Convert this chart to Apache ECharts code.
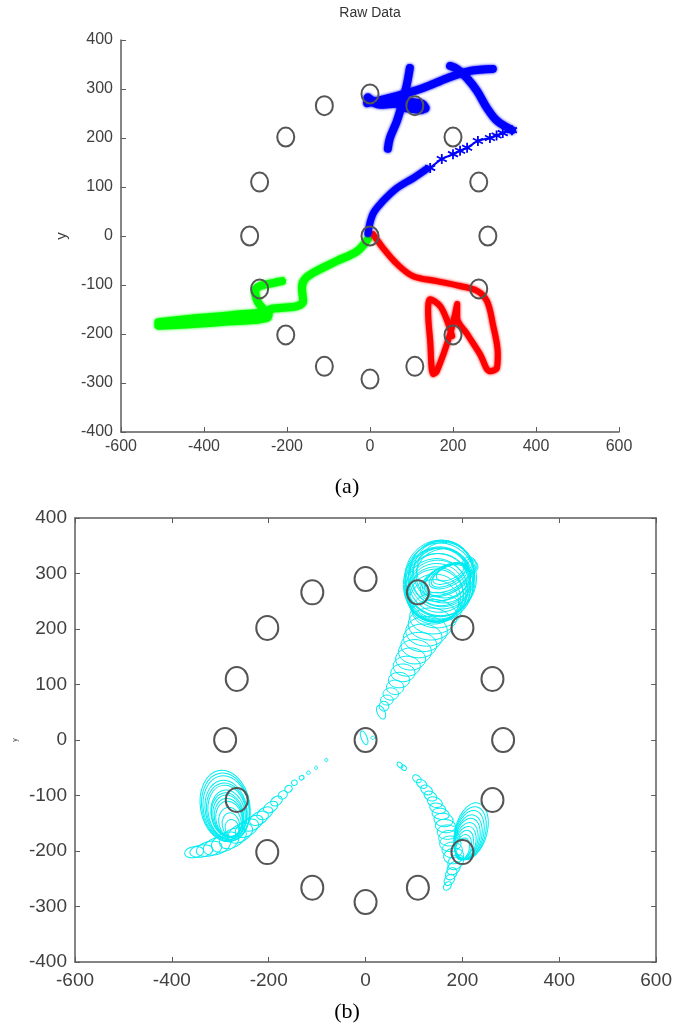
<!DOCTYPE html>
<html>
<head>
<meta charset="utf-8">
<script src="https://cdn.jsdelivr.net/npm/echarts@6/dist/echarts.min.js"></script>
<style>
  html, body { margin: 0; padding: 0; background: #fff; }
  #chart { width: 675px; height: 1030px; }
</style>
</head>
<body>
<div id="chart"></div>
<script>
// reference circles (same ring in both panels)
const ringX = [0, 108, 200, 262, 284, 262, 200, 108, 0, -110, -203, -266, -290, -266, -203, -110, 0];
const ringY = [290, 266, 202, 110, 0, -108, -202, -266, -292, -266, -202, -108, 0, 110, 202, 266, 0];

// (a) raw trajectories
const blueMain = [[-5, 5], [7, 45], [31, 71], [65, 98], [104, 118], [137, 137]];
const blueStars = [[145, 139], [173, 157], [200, 167], [217, 174], [234, 180], [260, 194], [289, 200],
  [305, 205], [320, 210], [342, 216]];
const blueDown = [[342, 216], [306, 235], [282, 261], [258, 296], [234, 322], [210, 341], [193, 347]];
const blueLong = [[-7, 271], [65, 286], [128, 302], [186, 322], [241, 337], [296, 341]];
const blueVert = [[96, 343], [89, 310], [77, 269], [65, 235], [48, 200], [43, 178]];
const blueFlat = [[-5, 282], [24, 269], [65, 271], [104, 265], [133, 261]];
const blueBlob = [[85, 268], [122, 264]];

const red = [[7, 4], [31, -24], [65, -57], [104, -82], [161, -92], [217, -102], [258, -112], [282, -133],
  [296, -180], [308, -241], [306, -269], [289, -276], [265, -241], [234, -200], [210, -167], [210, -139],
  [193, -200], [161, -276], [152, -282], [145, -214], [140, -153], [145, -129], [169, -143], [186, -173], [198, -204]];

const greenOut = [[-5, -6], [-31, -31], [-80, -51], [-128, -71], [-157, -88], [-164, -106], [-161, -133],
  [-176, -143], [-217, -147], [-241, -150], [-248, -167], [-337, -174], [-417, -179], [-510, -183]];
const greenBack = [[-510, -176], [-420, -168], [-330, -161], [-255, -152], [-270, -135], [-277, -112],
  [-265, -102], [-234, -96], [-212, -92]];

// (b) estimate ellipses: [x, y, rx, ry, angle deg]
const ellTopRight = [
  [155, 292, 74, 68, 0], [153, 285, 70, 63, 0], [151, 277, 66, 59, 0], [149, 270, 62, 54, 0],
  [157, 297, 68, 61, 0], [161, 303, 62, 56, 0], [163, 306, 57, 50, 0], [145, 263, 57, 49, 0],
  [143, 256, 53, 43, 0], [141, 249, 51, 40, 0], [150, 280, 72, 66, 0], [158, 300, 66, 60, 0],
  [147, 266, 60, 52, 0], [152, 288, 64, 58, 10], [156, 294, 60, 52, 15], [160, 298, 56, 46, 20],
  [148, 274, 68, 62, 0], [154, 289, 72, 66, 5], [146, 270, 64, 57, 5], [144, 260, 58, 48, 5],
  [169, 292, 49, 22, 25], [171, 295, 43, 18, 25], [173, 299, 37, 14, 25], [175, 303, 31, 13, 25],
  [167, 288, 53, 25, 25], [165, 283, 55, 29, 25], [168, 290, 51, 24, 28], [172, 297, 40, 16, 28],
  [214, 317, 14, 13, 0], [220, 312, 12, 11, 0], [217, 314, 13, 12, 0]
];
const ellTail = [
  [32, 50, 8, 13, 25], [38, 61, 10, 9, 10], [44, 72, 13, 9, 0], [52, 83, 16, 11, 0], [61, 95, 18, 13, 0],
  [69, 108, 22, 14, 0], [77, 121, 25, 16, 0], [85, 133, 28, 18, 0], [93, 146, 31, 20, 0], [102, 159, 34, 22, 0],
  [110, 171, 37, 23, 0], [118, 184, 40, 25, 0], [126, 196, 43, 27, 0], [134, 209, 46, 29, 0],
  [140, 222, 49, 31, 0], [147, 234, 51, 32, 0]
];
const ellLeftRings = [
  [-290, -119, 51, 65, 10], [-289, -121, 49, 62, 10], [-288, -123, 47, 59, 10], [-288, -126, 43, 54, 10],
  [-287, -128, 41, 51, 10], [-286, -130, 39, 49, 10], [-284, -133, 35, 43, 10], [-285, -135, 33, 40, 10],
  [-284, -137, 31, 38, 10], [-283, -140, 29, 35, 10], [-282, -142, 27, 32, 10], [-280, -148, 23, 27, 10],
  [-278, -153, 18, 22, 10], [-276, -159, 14, 16, 10]
];
const ellLeftFan = [
  [-81, -36, 3, 3, 0], [-102, -50, 3, 3, 0], [-118, -59, 4, 3, 0], [-132, -68, 5, 4, 30], [-147, -77, 6, 5, 30],
  [-159, -88, 8, 6, 30], [-171, -99, 10, 7, 30], [-184, -110, 13, 8, 30], [-196, -121, 16, 9, 30],
  [-208, -132, 18, 10, 30], [-220, -141, 21, 11, 30], [-233, -150, 23, 12, 30], [-245, -159, 26, 14, 30],
  [-259, -168, 28, 15, 30], [-274, -177, 30, 16, 30], [-290, -184, 30, 16, 25], [-307, -191, 29, 15, 20],
  [-323, -196, 27, 13, 15], [-339, -200, 24, 11, 10], [-354, -202, 20, 10, 10]
];
const ellRightArc = [
  [71, -45, 7, 4, -45], [79, -50, 6, 4, -45], [106, -70, 10, 6, -40], [116, -79, 12, 7, -35], [126, -90, 13, 8, -30],
  [134, -101, 14, 8, -25], [143, -112, 16, 9, -20], [149, -123, 17, 9, -15], [155, -133, 18, 10, -10],
  [161, -144, 20, 12, -10], [165, -155, 21, 12, -5], [169, -166, 21, 13, 0], [173, -177, 22, 14, 0],
  [175, -187, 22, 14, 0], [179, -198, 21, 14, 0], [182, -209, 21, 14, 10], [186, -220, 18, 12, 40],
  [182, -231, 16, 10, 45], [177, -241, 14, 9, 50], [173, -252, 13, 8, 50], [169, -263, 10, 6, 50]
];
const ellRightRings = [
  [218, -164, 33, 52, -15], [216, -168, 31, 49, -15], [214, -171, 29, 45, -15], [212, -175, 27, 41, -15],
  [210, -178, 25, 38, -15], [208, -182, 23, 34, -15], [206, -186, 21, 31, -15], [204, -189, 18, 27, -15],
  [202, -193, 16, 23, -15], [200, -196, 14, 20, -15]
];
const ellCentre = [[-3, 4, 6, 13, 20], [15, 4, 4, 3, 0]];

const ringPts = ringX.map((x, i) => [x, ringY[i]]);
const axisGrey = '#5c5c5c';
const labelGrey = '#404040';
const sans = '"Liberation Sans", Arial, sans-serif';
const cyan = 'rgb(0,236,242)';
const starPath = 'path://M0,-1L0,1M-0.87,-0.5L0.87,0.5M-0.87,0.5L0.87,-0.5';

function axis(gi, pos, min, max, interval, labels, fontSize, margin) {
  return {
    type: 'value', gridIndex: gi, position: pos, min: min, max: max, interval: interval,
    splitLine: {show: false},
    axisLine: {show: true, onZero: false, lineStyle: {color: axisGrey, width: 1.5}},
    axisTick: {show: true, inside: true, length: 5, lineStyle: {color: axisGrey}},
    axisLabel: {show: labels, color: labelGrey, fontFamily: sans, fontSize: fontSize, margin: margin}
  };
}

function stroke(data, color, width) {
  return {
    type: 'line', xAxisIndex: 0, yAxisIndex: 0, data: data, smooth: 0.35,
    symbol: 'none', silent: true, z: 2,
    lineStyle: {color: color, width: width, cap: 'round', join: 'round', shadowBlur: 3, shadowColor: color}
  };
}

function ringSeries(gi, rx, ry) {
  return {
    type: 'custom', xAxisIndex: gi, yAxisIndex: gi, data: ringPts, silent: true, z: 5,
    renderItem: function (params, api) {
      const c = api.coord([api.value(0), api.value(1)]);
      return {type: 'ellipse', shape: {cx: c[0], cy: c[1], rx: rx, ry: ry},
        style: {fill: 'none', stroke: '#555', lineWidth: 2}};
    }
  };
}

function ellSeries(data) {
  return {
    type: 'custom', xAxisIndex: 1, yAxisIndex: 1, data: data, silent: true, z: 2,
    renderItem: function (params, api) {
      const c = api.coord([api.value(0), api.value(1)]);
      const s = api.size([api.value(2), api.value(3)]);
      return {type: 'ellipse', x: c[0], y: c[1], rotation: api.value(4) * Math.PI / 180,
        shape: {cx: 0, cy: 0, rx: s[0], ry: s[1]},
        style: {fill: 'none', stroke: cyan, lineWidth: 1}};
    }
  };
}

const chart = echarts.init(document.getElementById('chart'));
chart.setOption({
  animation: false,
  backgroundColor: '#fff',
  grid: [
    {left: 121, top: 40, width: 498, height: 392},
    {left: 75, top: 518, width: 585, height: 444}
  ],
  xAxis: [
    axis(0, 'bottom', -600, 600, 200, true, 16, 7),
    axis(1, 'bottom', -600, 600, 200, true, 19, 9),
    axis(1, 'top', -600, 600, 200, false, 19, 9)
  ],
  yAxis: [
    Object.assign(axis(0, 'left', -400, 400, 100, true, 16, 8),
      {name: 'y', nameLocation: 'middle', nameGap: 52, nameRotate: 90,
        nameTextStyle: {color: labelGrey, fontFamily: sans, fontSize: 15}}),
    Object.assign(axis(1, 'left', -400, 400, 100, true, 19, 8),
      {name: 'y', nameLocation: 'middle', nameGap: 56, nameRotate: 90,
        nameTextStyle: {color: labelGrey, fontFamily: sans, fontSize: 7}}),
    axis(1, 'right', -400, 400, 100, false, 19, 8)
  ],
  graphic: [
    {type: 'text', x: 370, y: 13, style: {text: 'Raw Data', fontSize: 14, fontFamily: sans, fill: '#333', align: 'center', verticalAlign: 'middle'}},
    {type: 'text', x: 347, y: 487, style: {text: '(a)', fontSize: 22, fontFamily: '"Liberation Serif", "Times New Roman", serif', fill: '#000', align: 'center', verticalAlign: 'middle'}},
    {type: 'text', x: 347, y: 1012, style: {text: '(b)', fontSize: 22, fontFamily: '"Liberation Serif", "Times New Roman", serif', fill: '#000', align: 'center', verticalAlign: 'middle'}}
  ],
  series: [
    stroke(greenOut, '#00ff00', 8),
    stroke(greenBack, '#00ff00', 8),
    stroke(red, '#ff0000', 6),
    stroke(blueMain, '#0000ff', 7),
    {
      type: 'line', xAxisIndex: 0, yAxisIndex: 0, data: blueStars, smooth: 0.3, silent: true, z: 2,
      symbol: starPath, symbolSize: 10, showSymbol: true,
      itemStyle: {color: '#0000ff', borderColor: '#0000ff', borderWidth: 1.8},
      lineStyle: {color: '#0000ff', width: 2}
    },
    stroke(blueDown, '#0000ff', 8),
    stroke(blueLong, '#0000ff', 8),
    stroke(blueVert, '#0000ff', 8),
    stroke(blueFlat, '#0000ff', 9),
    stroke(blueBlob, '#0000ff', 15),
    ringSeries(0, 8.5, 9.5),
    ellSeries(ellTopRight),
    ellSeries(ellTail),
    ellSeries(ellLeftRings),
    ellSeries(ellLeftFan),
    ellSeries(ellRightArc),
    ellSeries(ellRightRings),
    ellSeries(ellCentre),
    ringSeries(1, 11, 12)
  ]
});
</script>
</body>
</html>
